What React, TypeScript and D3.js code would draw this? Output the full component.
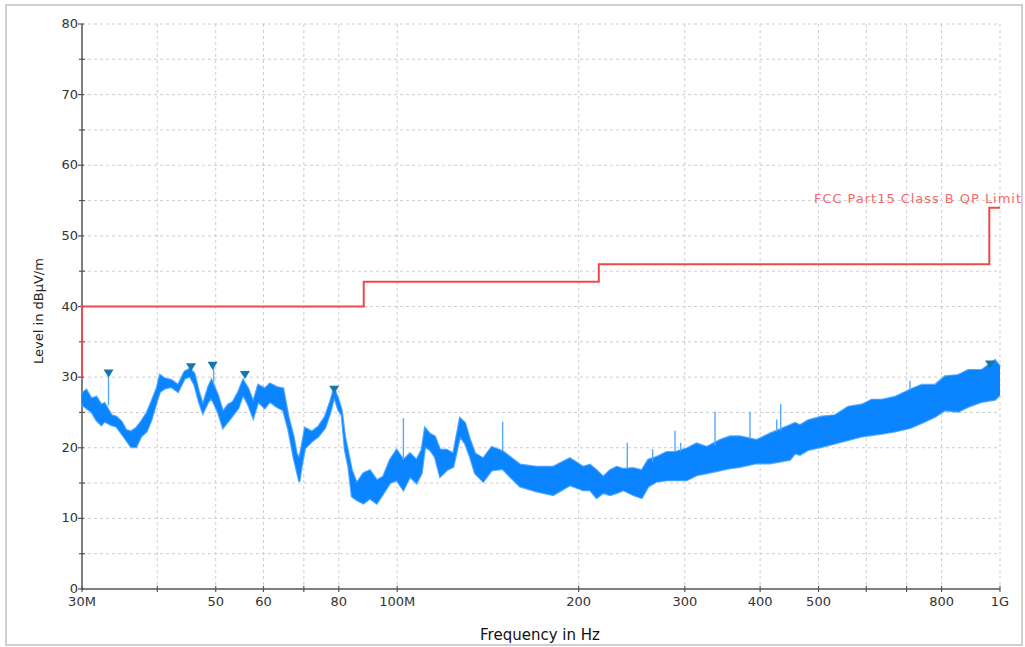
import React from "react";
import * as d3 from "d3";

// Frequencies in MHz, levels in dBµV/m
const traceFreq = [30.0, 30.5, 31.1, 31.7, 32.3, 32.7, 33.6, 34.2, 34.9, 35.5, 36.2, 36.9, 37.6, 38.4, 39.1, 39.9, 40.4, 41.2, 42.2, 43.3, 44.4, 45.3, 46.1, 46.9, 47.6, 48.6, 49.2, 50.4, 51.4, 52.4, 53.4, 54.5, 55.5, 56.6, 57.7, 58.8, 60.3, 61.5, 63.1, 64.7, 66.0, 67.3, 68.1, 68.8, 69.4, 70.3, 72.2, 74.0, 75.9, 77.4, 78.6, 79.9, 80.9, 81.9, 83.0, 84.1, 85.7, 87.9, 90.1, 92.5, 94.8, 97.3, 99.8, 102.4, 105.0, 107.7, 109.8, 111.2, 113.3, 115.5, 117.8, 120.8, 123.9, 127.1, 129.6, 132.1, 134.6, 138.9, 143.5, 149.6, 153.9, 159.9, 170.3, 181.5, 193.4, 203.5, 208.8, 214.2, 219.7, 225.4, 231.3, 237.2, 246.4, 254.5, 260.9, 269.4, 280.0, 289.0, 302.2, 313.9, 326.2, 343.2, 356.6, 370.4, 394.7, 415.4, 448.3, 457.0, 465.8, 480.9, 506.1, 532.6, 560.2, 589.7, 612.6, 636.4, 669.6, 709.1, 741.5, 780.1, 810.4, 852.7, 885.8, 932.3, 981.1, 1000];
const traceUpper = [27.7, 28.2, 27.0, 27.2, 26.1, 26.3, 24.6, 24.4, 23.7, 22.5, 22.3, 22.8, 23.7, 24.9, 26.5, 28.4, 30.3, 29.8, 29.6, 28.9, 30.8, 31.2, 30.5, 27.9, 26.1, 28.6, 29.6, 27.5, 25.1, 26.1, 26.5, 27.9, 29.6, 28.4, 26.5, 28.9, 28.4, 29.1, 28.6, 28.4, 24.4, 21.6, 19.2, 18.5, 20.1, 22.8, 22.3, 23.0, 24.4, 26.5, 28.4, 26.8, 25.3, 21.6, 19.2, 16.8, 15.0, 16.4, 16.8, 15.4, 15.9, 18.3, 19.7, 18.3, 19.2, 18.3, 19.7, 22.8, 22.0, 21.6, 19.7, 19.7, 19.2, 24.2, 23.5, 21.1, 19.2, 18.5, 20.1, 19.5, 18.7, 17.6, 17.3, 17.3, 18.5, 17.3, 17.6, 16.8, 15.9, 16.8, 17.3, 17.0, 17.1, 16.8, 18.3, 18.7, 19.4, 19.4, 19.9, 20.6, 20.1, 21.1, 21.6, 21.6, 21.1, 22.0, 23.2, 23.5, 23.2, 23.9, 24.4, 24.6, 25.8, 26.1, 26.8, 26.8, 27.2, 28.2, 28.9, 28.9, 30.1, 30.3, 31.0, 31.0, 32.4, 31.5];
const traceLower = [26.1, 25.6, 25.1, 23.9, 23.2, 23.7, 23.2, 23.0, 22.0, 21.1, 20.1, 20.1, 21.6, 22.3, 23.9, 26.5, 27.9, 28.4, 28.6, 27.9, 29.8, 30.1, 28.9, 26.5, 24.9, 26.5, 27.0, 25.1, 22.8, 23.7, 24.6, 25.6, 27.5, 26.1, 24.2, 26.5, 25.6, 26.5, 25.8, 25.3, 22.5, 18.7, 16.8, 15.2, 17.3, 19.9, 20.9, 21.6, 22.8, 24.9, 27.2, 25.3, 24.6, 19.7, 17.3, 13.1, 12.6, 12.1, 12.8, 12.1, 13.5, 15.0, 15.4, 14.0, 15.9, 15.0, 16.4, 20.1, 19.7, 18.7, 15.9, 16.8, 17.3, 21.6, 20.6, 18.7, 16.4, 15.2, 16.8, 17.0, 15.9, 14.5, 13.8, 13.3, 14.7, 14.0, 14.0, 12.9, 13.6, 13.3, 13.6, 14.0, 13.3, 12.9, 14.5, 15.2, 15.4, 15.4, 15.4, 16.1, 16.4, 16.8, 17.1, 17.3, 17.8, 17.8, 18.3, 19.2, 19.0, 19.7, 20.1, 20.6, 21.1, 21.6, 21.8, 22.0, 22.3, 22.8, 23.5, 24.4, 25.3, 25.1, 25.8, 26.5, 26.8, 27.5];

// Narrowband spikes: frequency, top level, base level
const spikeFreq = [33.2, 49.6, 102.4, 149.6, 240.8, 265.3, 289.0, 295.3, 336.7, 384.8, 426.2, 432.7, 709.1];
const spikeTop = [30.4, 31.7, 24.2, 23.7, 20.7, 19.8, 22.4, 20.7, 25.1, 25.1, 24.0, 26.2, 29.5];
const spikeBase = [26.0, 29.0, 18.3, 19.5, 17.0, 18.0, 19.4, 19.5, 20.3, 21.3, 22.3, 22.4, 28.2];

// Peak markers
const markerFreq = [33.2, 45.5, 49.4, 55.9, 78.6, 962.7];
const markerLevel = [30.5, 31.4, 31.6, 30.3, 28.2, 31.8];

// Limit line
const limitFreq = [30, 30, 88, 88, 216, 216, 960, 960, 1000];
const limitLevel = [30, 40, 40, 43.5, 43.5, 46, 46, 54, 54];

// Axes
const xGridFreq = [30, 40, 50, 60, 70, 80, 100, 200, 300, 400, 500, 600, 700, 800, 1000];
const xTickLabels: [number, string][] = [
  [30, "30M"], [50, "50"], [60, "60"], [80, "80"], [100, "100M"],
  [200, "200"], [300, "300"], [400, "400"], [500, "500"], [800, "800"], [1000, "1G"],
];
const yMajor = [0, 10, 20, 30, 40, 50, 60, 70, 80];
const yMinor = [5, 15, 25, 35, 45, 55, 65, 75];

const W = 1025, H = 647;
const L = 82, R = 1000, T = 24, B = 589;

export default function App() {
  const x = d3.scaleLog().domain([30, 1000]).range([L, R]);
  const y = d3.scaleLinear().domain([0, 80]).range([B, T]);

  const idx = traceFreq.map((_, i) => i);
  const area = d3
    .area<number>()
    .x((i) => x(traceFreq[i]))
    .y0((i) => y(traceLower[i]))
    .y1((i) => y(traceUpper[i]))
    .curve(d3.curveLinear);
  const lineU = d3.line<number>().x((i) => x(traceFreq[i])).y((i) => y(traceUpper[i]));
  const lineL = d3.line<number>().x((i) => x(traceFreq[i])).y((i) => y(traceLower[i]));
  const limitLine = d3
    .line<number>()
    .x((i) => x(limitFreq[i]))
    .y((i) => y(limitLevel[i]));

  const gridColor = "#cdcdcd";
  const axisColor = "#555";
  const font = "'DejaVu Sans', sans-serif";
  const blue = "#0a84ff";
  const edge = "#55a9ff";

  return (
    <svg
      width={W}
      height={H}
      style={{ position: "absolute", left: 0, top: 0, display: "block", background: "#fff" }}
    >
      <rect x={0} y={0} width={W} height={H} fill="#fff" />
      <rect x={6} y={5} width={1016} height={640} fill="none" stroke="#cfcfcf" strokeWidth={2} />

      {/* grid */}
      {[...yMinor, ...yMajor.filter((v) => v > 0)].map((v) => (
        <line key={"gy" + v} x1={L} x2={R} y1={y(v)} y2={y(v)} stroke={gridColor} strokeDasharray="3,3" />
      ))}
      {xGridFreq.filter((f) => f > 30).map((f) => (
        <line key={"gx" + f} x1={x(f)} x2={x(f)} y1={T} y2={B} stroke={gridColor} strokeDasharray="3,3" />
      ))}

      {/* axes */}
      <line x1={L} x2={L} y1={T} y2={B} stroke={axisColor} strokeWidth={1.5} />
      <line x1={L} x2={R} y1={B} y2={B} stroke={axisColor} strokeWidth={1.5} />
      {yMajor.map((v) => (
        <g key={"ym" + v}>
          <line x1={L - 4} x2={L + 2} y1={y(v)} y2={y(v)} stroke={axisColor} strokeWidth={1.2} />
          <text x={L - 4} y={y(v) + 4} textAnchor="end" fontFamily={font} fontSize={13} fill="#333">
            {v}
          </text>
        </g>
      ))}
      {yMinor.map((v) => (
        <line key={"yn" + v} x1={L - 3} x2={L + 3} y1={y(v)} y2={y(v)} stroke={axisColor} strokeWidth={1.2} />
      ))}
      {xGridFreq.map((f) => (
        <line key={"xt" + f} x1={x(f)} x2={x(f)} y1={B - 3} y2={B + 3} stroke={axisColor} strokeWidth={1.2} />
      ))}
      {xTickLabels.map(([f, s]) => (
        <text key={"xl" + f} x={x(f)} y={606} textAnchor="middle" fontFamily={font} fontSize={13} fill="#333">
          {s}
        </text>
      ))}

      {/* limit */}
      <path d={limitLine(limitFreq.map((_, i) => i)) || ""} fill="none" stroke="#f04848" strokeWidth={2} />
      <text
        x={1021}
        y={203}
        textAnchor="end"
        fontFamily={font}
        fontSize={13}
        fill="#f26a6a"
        textLength={207}
        lengthAdjust="spacing"
      >
        FCC Part15 Class B QP Limit
      </text>

      {/* trace */}
      <path d={lineU(idx) || ""} fill="none" stroke={edge} strokeWidth={2.2} />
      <path d={lineL(idx) || ""} fill="none" stroke={edge} strokeWidth={2.2} />
      <path d={area(idx) || ""} fill={blue} stroke="none" />
      {spikeFreq.map((f, i) => (
        <line
          key={"sp" + i}
          x1={x(f)}
          x2={x(f)}
          y1={y(spikeTop[i])}
          y2={y(spikeBase[i])}
          stroke={edge}
          strokeWidth={1.4}
        />
      ))}

      {/* markers */}
      {markerFreq.map((f, i) => {
        const cx = x(f), cy = y(markerLevel[i]);
        return (
          <path
            key={"mk" + i}
            d={`M${cx - 5},${cy - 4}L${cx + 5},${cy - 4}L${cx},${cy + 4}Z`}
            fill="#1479aa"
          />
        );
      })}

      {/* titles */}
      <text x={540} y={640} textAnchor="middle" fontFamily={font} fontSize={15} fill="#111">
        Frequency in Hz
      </text>
      <text
        transform={`translate(43,311) rotate(-90)`}
        textAnchor="middle"
        fontFamily={font}
        fontSize={13}
        fill="#222"
      >
        Level in dBµV/m
      </text>
    </svg>
  );
}
